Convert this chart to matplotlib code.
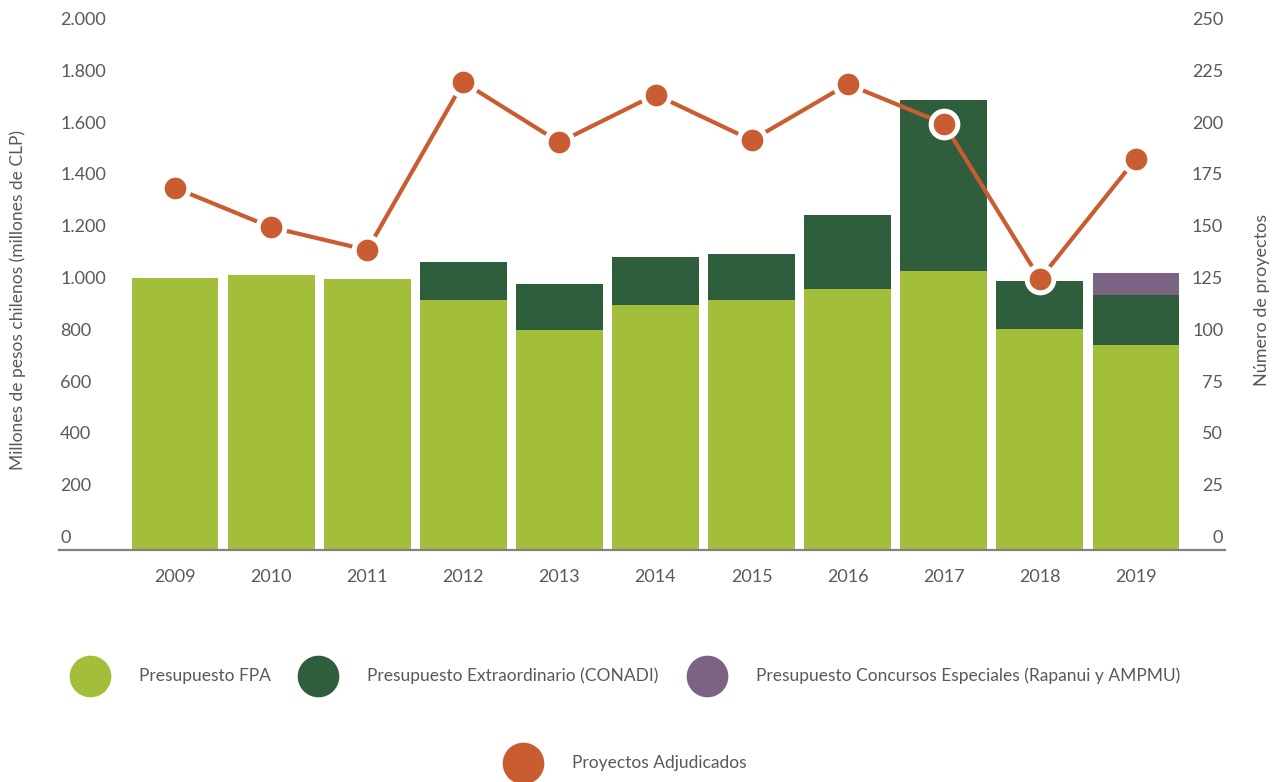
import numpy as np
import matplotlib.pyplot as plt
from matplotlib.transforms import blended_transform_factory

plt.rcParams['font.family'] = ['Lato', 'DejaVu Sans']

# Data
years = ['2009', '2010', '2011', '2012', '2013', '2014', '2015', '2016', '2017', '2018', '2019']
presupuesto_fpa = [1005, 1015, 1002, 919, 803, 900, 919, 961, 1031, 807, 745]
presupuesto_conadi = [0, 0, 0, 147, 178, 185, 178, 286, 660, 185, 193]
presupuesto_especiales = [0, 0, 0, 0, 0, 0, 0, 0, 0, 0, 85]
proyectos = [169, 150, 139, 220, 191, 214, 192, 219, 200, 125, 183]

left_ticks = list(range(0, 2001, 200))
right_ticks = list(range(0, 251, 25))

c_fpa = '#A3BE3A'
c_conadi = '#2E5E3B'
c_esp = '#7A6383'
c_line = '#C95C30'
c_text = '#595959'

fig = plt.figure(figsize=(12.78, 7.82), dpi=100)
W, H = 1278, 782
ax = fig.add_axes([59 / W, 1 - 550 / H, (1225 - 59) / W, 530 / H])

y_bottom = -46  # baseline sits a little below the zero label
ax.set_ylim(y_bottom, 2000)
ax.set_xlim(-1.207, 10.926)

x = np.arange(len(years))
fpa = np.array(presupuesto_fpa)
conadi = np.array(presupuesto_conadi)
esp = np.array(presupuesto_especiales)
w = 0.905
ax.bar(x, fpa - y_bottom, bottom=y_bottom, width=w, color=c_fpa, linewidth=0)
ax.bar(x, conadi, bottom=fpa, width=w, color=c_conadi, linewidth=0)
ax.bar(x, esp, bottom=fpa + conadi, width=w, color=c_esp, linewidth=0)

for s in ['top', 'left', 'right']:
    ax.spines[s].set_visible(False)
ax.spines['bottom'].set_color('#808080')
ax.spines['bottom'].set_linewidth(1.6)
ax.spines['bottom'].set_zorder(5)
ax.set_yticks([])
ax.set_xticks(x)
ax.set_xticklabels(years, fontsize=13, color=c_text)
ax.tick_params(axis='x', length=0, pad=13.5)

tl = blended_transform_factory(ax.transAxes, ax.transData)
for v in left_ticks:
    ax.text(0.001, v, f'{v:,}'.replace(',', '.'), transform=tl, ha='left', va='center',
            fontsize=13, color=c_text, clip_on=False)

ax2 = ax.twinx()
ax2.set_ylim(y_bottom / 8, 250)
ax2.set_yticks([])
for s in ['top', 'left', 'right', 'bottom']:
    ax2.spines[s].set_visible(False)
ax2.plot(x, proyectos, color=c_line, linewidth=3, marker='o', markersize=19.2,
         markerfacecolor=c_line, markeredgecolor='white', markeredgewidth=3.6, zorder=6)

tr = blended_transform_factory(ax2.transAxes, ax2.transData)
for v in right_ticks:
    ax2.text(0.9985, v, str(v), transform=tr, ha='right', va='center',
             fontsize=13, color=c_text, clip_on=False)

fig.text(18 / W, 1 - 300 / H, 'Millones de pesos chilenos (millones de CLP)', rotation=90,
         ha='center', va='center', fontsize=12.5, color=c_text)
fig.text(1262 / W, 1 - 300 / H, 'Número de proyectos', rotation=90,
         ha='center', va='center', fontsize=13, color=c_text)

# custom legend laid out like the reference
lg = fig.add_axes([0, 0, 1, 1])
lg.set_xlim(0, W)
lg.set_ylim(H, 0)
lg.axis('off')
legend_items = [
    ('Presupuesto FPA', c_fpa, 90, 676),
    ('Presupuesto Extraordinario (CONADI)', c_conadi, 318, 676),
    ('Presupuesto Concursos Especiales (Rapanui y AMPMU)', c_esp, 707, 676),
    ('Proyectos Adjudicados', c_line, 523, 763),
]
for label, col, cx, cy in legend_items:
    lg.scatter([cx], [cy], s=900, color=col, linewidths=0)
    lg.text(cx + 49, cy, label, ha='left', va='center', fontsize=12.5, color=c_text)

fig.savefig('out.png', dpi=100)
